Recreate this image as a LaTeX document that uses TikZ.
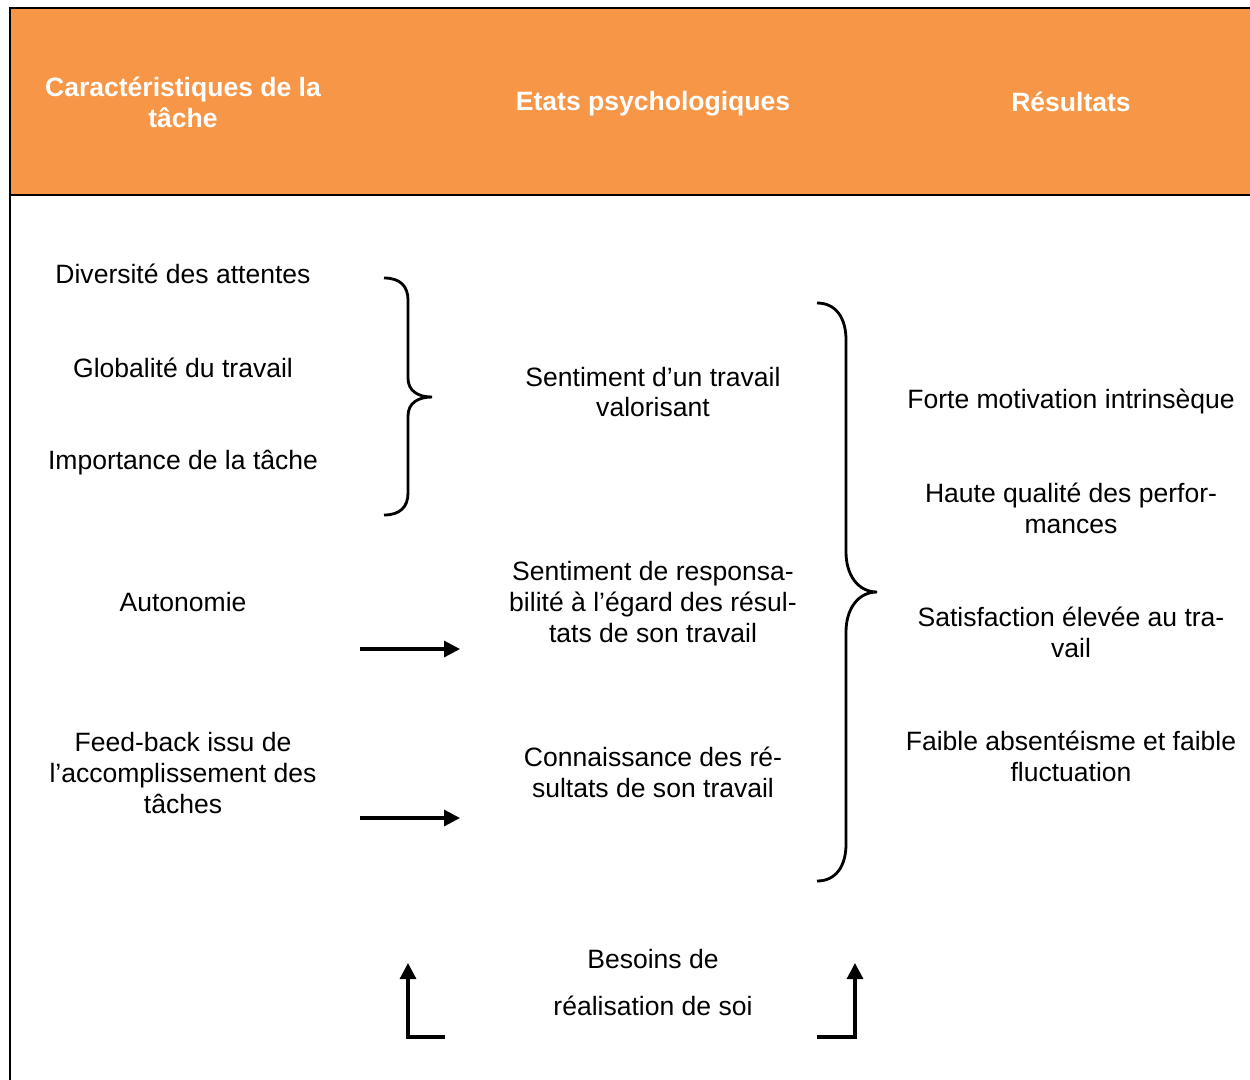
\documentclass[tikz,border=0pt]{standalone}
\usepackage{fontspec}
\setmainfont{Liberation Sans}
\usetikzlibrary{arrows.meta,positioning,calc}
\definecolor{hdr}{HTML}{F79646}

\begin{document}
\begin{tikzpicture}[x=0.02cm, y=-0.02cm,
      txt/.style={align=center, inner sep=0pt, font=\fontsize{15.1}{17.6}\selectfont},
      head/.style={align=center, inner sep=0pt, text=white, font=\fontsize{15.1}{17.6}\selectfont\bfseries},
      arr/.style={-{Triangle[length=3.2mm,width=3.2mm]}, line width=1.8pt},
      brc/.style={line width=1.6pt}]
    \useasboundingbox (0,0) rectangle (1250,1079);
    \clip (0,0) rectangle (1250,1079);
    % header band and frame
    \fill[hdr] (10,8) rectangle (1260,195);
    \draw[line width=1.2pt] (1260,8) -- (10,8) -- (10,1090);
    \draw[line width=1.2pt] (10,195) -- (1260,195);
    \node[head] (hcar) at (183,102) {Caractéristiques de la\\tâche};
    \node[head] (heta) at (653,104) {Etats psychologiques};
    \node[head] (hres) at (1071,102) {Résultats};
    % task characteristics
    \node[txt] (div) at (183,274) {Diversité des attentes};
    \node[txt] (glob) at (183,368) {Globalité du travail};
    \node[txt] (imp) at (183,463) {Importance de la tâche};
    \node[txt] (auto) at (183,602) {Autonomie};
    \node[txt] (feed) at (183,773) {Feed-back issu de\\l’accomplissement des\\tâches};
    % psychological states
    \node[txt] (valo) at (653,392) {Sentiment d’un travail\\valorisant};
    \node[txt] (resp) at (653,602) {Sentiment de responsa-\\bilité à l’égard des résul-\\tats de son travail};
    \node[txt] (conn) at (653,772) {Connaissance des ré-\\sultats de son travail};
    \node[txt] (bes1) at (653,959) {Besoins de};
    \node[txt] (bes2) at (653,1006) {réalisation de soi};
    % results
    \node[txt] (moti) at (1071,401) {Forte motivation intrinsèque};
    \node[txt] (qual) at (1071,508) {Haute qualité des perfor-\\mances};
    \node[txt] (sati) at (1071,632) {Satisfaction élevée au tra-\\vail};
    \node[txt] (absn) at (1071,756) {Faible absentéisme et faible\\fluctuation};
    % braces
    \draw[brc] (384,278) .. controls (400,278) and (408,286) .. (408,300) -- (408,378)
      .. controls (408,391) and (418,397) .. (432,397)
      .. controls (418,397) and (408,403) .. (408,416) -- (408,493)
      .. controls (408,507) and (400,515) .. (384,515);
    \draw[brc] (817,303) .. controls (836,303) and (846,318) .. (846,340) -- (846,552)
      .. controls (846,575) and (858,592) .. (877,592)
      .. controls (858,592) and (846,609) .. (846,632) -- (846,844)
      .. controls (846,866) and (836,881) .. (817,881);
    % arrows
    \coordinate (autoS) at (360,649);
    \coordinate (autoE) at (460,649);
    \coordinate (feedS) at (360,818);
    \coordinate (feedE) at (460,818);
    \coordinate (besLS) at (445,1037);
    \coordinate (besLE) at (408,963);
    \coordinate (besRS) at (817,1037);
    \coordinate (besRE) at (855,963);
    \draw[arr] (autoS) -- (autoE);
    \draw[arr] (feedS) -- (feedE);
    \draw[arr] (besLS) -| (besLE);
    \draw[arr] (besRS) -| (besRE);
  \end{tikzpicture}
\end{document}
